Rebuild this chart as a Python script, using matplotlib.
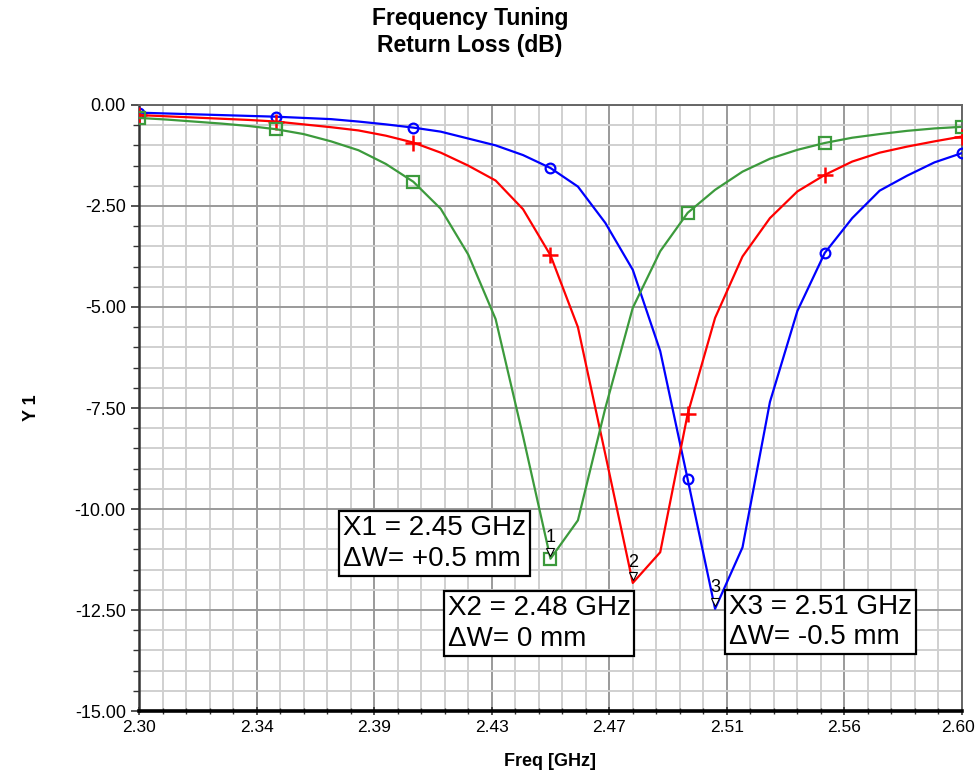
import numpy as np
import matplotlib
matplotlib.use("Agg")
import matplotlib.pyplot as plt
from matplotlib.ticker import AutoMinorLocator, FixedLocator, FormatStrFormatter
from matplotlib.transforms import ScaledTranslation

plt.rcParams['font.family'] = ['Liberation Sans', 'DejaVu Sans']

# frequency sweep, 10 MHz steps
freq = np.round(np.arange(2.30, 2.6001, 0.01), 2)

# return loss (dB) for the three patch widths
s11_plus = [-0.32, -0.36, -0.41, -0.46, -0.52, -0.60, -0.72, -0.90, -1.12, -1.46,
            -1.90, -2.57, -3.70, -5.30, -8.20, -11.23, -10.28, -7.50, -5.02, -3.62,
            -2.67, -2.10, -1.65, -1.33, -1.11, -0.94, -0.81, -0.72, -0.64, -0.58,
            -0.54]
s11_zero = [-0.25, -0.28, -0.31, -0.34, -0.37, -0.41, -0.48, -0.55, -0.63, -0.76,
            -0.93, -1.18, -1.50, -1.87, -2.58, -3.72, -5.50, -8.65, -11.83, -11.07,
            -7.65, -5.27, -3.75, -2.80, -2.14, -1.73, -1.40, -1.18, -1.03, -0.90,
            -0.78]
s11_minus = [-0.19, -0.21, -0.23, -0.25, -0.27, -0.29, -0.32, -0.35, -0.41, -0.48,
             -0.56, -0.66, -0.83, -1.00, -1.24, -1.56, -2.02, -2.92, -4.08, -6.09,
             -9.26, -12.47, -10.95, -7.35, -5.10, -3.66, -2.80, -2.12, -1.75, -1.42,
             -1.19]

marker_labels = ['1', '2', '3']
box_texts = ['X1 = 2.45 GHz\n\u0394W= +0.5 mm',
             'X2 = 2.48 GHz\n\u0394W= 0 mm',
             'X3 = 2.51 GHz\n\u0394W= -0.5 mm']

fig = plt.figure(figsize=(9.77, 7.72), dpi=100)
ax = fig.add_axes([0.1423, 0.079, 0.8423, 0.785])

green = '#3c9a3c'
ax.plot(freq, s11_minus, color='#0000ff', lw=1.6, marker='o', ms=7,
        mfc='none', mew=1.6, markevery=5, zorder=3)
ax.plot(freq, s11_zero, color='#ff0000', lw=1.6, marker='+', ms=11,
        mew=1.8, markevery=5, zorder=3)
ax.plot(freq, s11_plus, color=green, lw=1.6, marker='s', ms=8,
        mfc='none', mew=1.6, markevery=5, zorder=3)

# numbered markers at the resonance minima
tri_shift = ax.transData + ScaledTranslation(0, 7 / 100, fig.dpi_scale_trans)
for lab, curve in zip(marker_labels, [s11_plus, s11_zero, s11_minus]):
    i = int(np.argmin(curve))
    ax.plot(freq[i], curve[i], marker='v', ms=6, mfc='white', mec='black',
            mew=0.8, ls='none', zorder=4, transform=tri_shift)
    ax.annotate(lab, xy=(freq[i], curve[i]), xytext=(0, 15),
                textcoords='offset points', ha='center', va='center',
                fontsize=13, zorder=5)

# annotation boxes
box_pos = [(0.248, 0.323), (0.375, 0.191), (0.717, 0.193)]
for (bx, by), txt in zip(box_pos, box_texts):
    ax.text(bx, by, txt, transform=ax.transAxes, ha='left', va='top',
            fontsize=20, linespacing=1.22, zorder=6,
            bbox=dict(boxstyle='square,pad=0.14', fc='white', ec='black', lw=1.6))

ax.set_xlim(2.30, 2.60)
ax.set_ylim(-15, 0)
ax.xaxis.set_major_locator(FixedLocator(np.linspace(2.30, 2.60, 8)))
ax.xaxis.set_major_formatter(FormatStrFormatter('%.2f'))
ax.xaxis.set_minor_locator(AutoMinorLocator(5))
ax.yaxis.set_major_locator(FixedLocator(np.arange(-15, 0.1, 2.5)))
ax.yaxis.set_major_formatter(FormatStrFormatter('%.2f'))
ax.yaxis.set_minor_locator(AutoMinorLocator(5))

ax.grid(which='major', color='#9a9a9a', lw=1.4, zorder=0)
ax.grid(which='minor', color='#d0d0d0', lw=1.4, zorder=0)
ax.set_axisbelow(True)

ax.tick_params(axis='both', which='major', labelsize=13, length=6, width=1.2,
               color='#333333')
ax.tick_params(axis='x', which='major', labelsize=12.5)
ax.tick_params(axis='both', which='minor', length=4, width=1.0, color='#333333')
ax.tick_params(axis='x', which='both', direction='inout')
ax.tick_params(axis='y', which='both', direction='out')

# keep the last frequency label inside the figure
fig.canvas.draw()
last = ax.get_xticklabels()[-1]
last.set_transform(last.get_transform() + ScaledTranslation(-4 / 100, 0, fig.dpi_scale_trans))

for side in ['top', 'right']:
    ax.spines[side].set_color('#666666')
    ax.spines[side].set_linewidth(1.4)
ax.spines['left'].set_color('#333333')
ax.spines['left'].set_linewidth(1.8)
ax.spines['bottom'].set_color('black')
ax.spines['bottom'].set_linewidth(2.6)

ax.set_xlabel('Freq [GHz]', fontsize=13, fontweight='bold', labelpad=13)
ax.set_ylabel('Y 1', fontsize=13, fontweight='bold', labelpad=25)

fig.text(0.481, 0.991, 'Frequency Tuning\nReturn Loss (dB)', ha='center',
         va='top', fontsize=16.5, fontweight='bold', linespacing=1.2)

fig.savefig('out.png', dpi=100)
